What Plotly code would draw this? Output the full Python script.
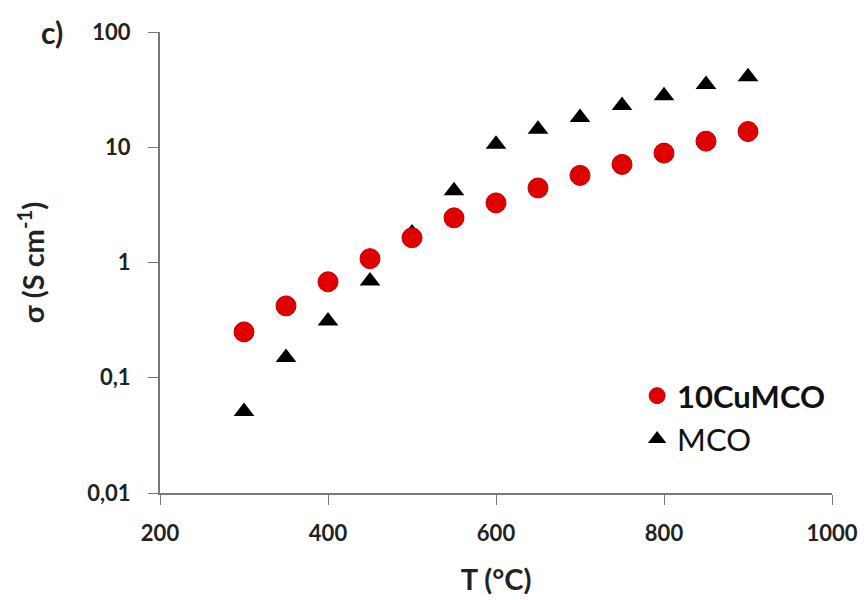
import plotly.graph_objects as go

T = [300, 350, 400, 450, 500, 550, 600, 650, 700, 750, 800, 850, 900]
sigma_cumco = [0.25, 0.42, 0.68, 1.08, 1.64, 2.44, 3.29, 4.43, 5.7, 7.1, 8.9, 11.3, 13.7]
sigma_mco = [0.051, 0.15, 0.31, 0.69, 1.8, 4.2, 10.6, 14.3, 18.1, 23.0, 28.0, 35.0, 41.0]

ytickvals = [0.01, 0.1, 1, 10, 100]
yticktext = ["0,01", "0,1", "1", "10", "100"]
xtickvals = [200, 400, 600, 800, 1000]

fnt = "Lato, 'Open Sans', sans-serif"

fig = go.Figure()
fig.add_trace(go.Scatter(x=T, y=sigma_mco, mode="markers", name="MCO",
                         marker=dict(symbol="triangle-up", size=18, color="black"),
                         legendrank=2))
fig.add_trace(go.Scatter(x=T, y=sigma_cumco, mode="markers", name="<b>10CuMCO</b>",
                         marker=dict(symbol="circle", size=20, color="#e00000",
                                     line=dict(color="#c00000", width=1)),
                         legendrank=1))

fig.update_layout(
    width=867, height=600,
    paper_bgcolor="white", plot_bgcolor="white",
    margin=dict(l=152, r=43, t=24, b=115),
    font=dict(family=fnt, color="#222"),
    legend=dict(x=0.71, y=0.269, xanchor="left", yanchor="top",
                font=dict(size=31, family=fnt, color="#111"),
                itemsizing="trace", bgcolor="rgba(0,0,0,0)", tracegroupgap=0),
    xaxis=dict(range=[200, 1000], tickvals=xtickvals, showgrid=False, zeroline=False,
               automargin=False,
               showline=True, linecolor="#777", linewidth=2, ticks="outside",
               ticklen=10, tickcolor="#777", ticklabelstandoff=10,
               tickfont=dict(size=22, family=fnt, color="#222", weight="bold"),
               title=dict(text="<b>T (°C)</b>", font=dict(size=29, family=fnt, color="#222"), standoff=24)),
    yaxis=dict(type="log", range=[-2, 2], tickvals=ytickvals, ticktext=yticktext,
               automargin=False,
               showgrid=False, zeroline=False, showline=True, linecolor="#777", linewidth=2,
               ticks="outside", ticklen=10, tickcolor="#777", ticklabelstandoff=13,
               tickfont=dict(size=22, family=fnt, color="#222", weight="bold"),
               title=dict(text="<b>σ (S cm<sup>-1</sup>)</b>", font=dict(size=29, family=fnt, color="#222"), standoff=34)),
)
fig.add_annotation(text="<b>c)</b>", xref="paper", yref="paper", x=-0.16, y=1.0,
                   xanchor="center", yanchor="middle", showarrow=False,
                   font=dict(size=30, family=fnt, color="#222"))
fig.write_html("out.html")
